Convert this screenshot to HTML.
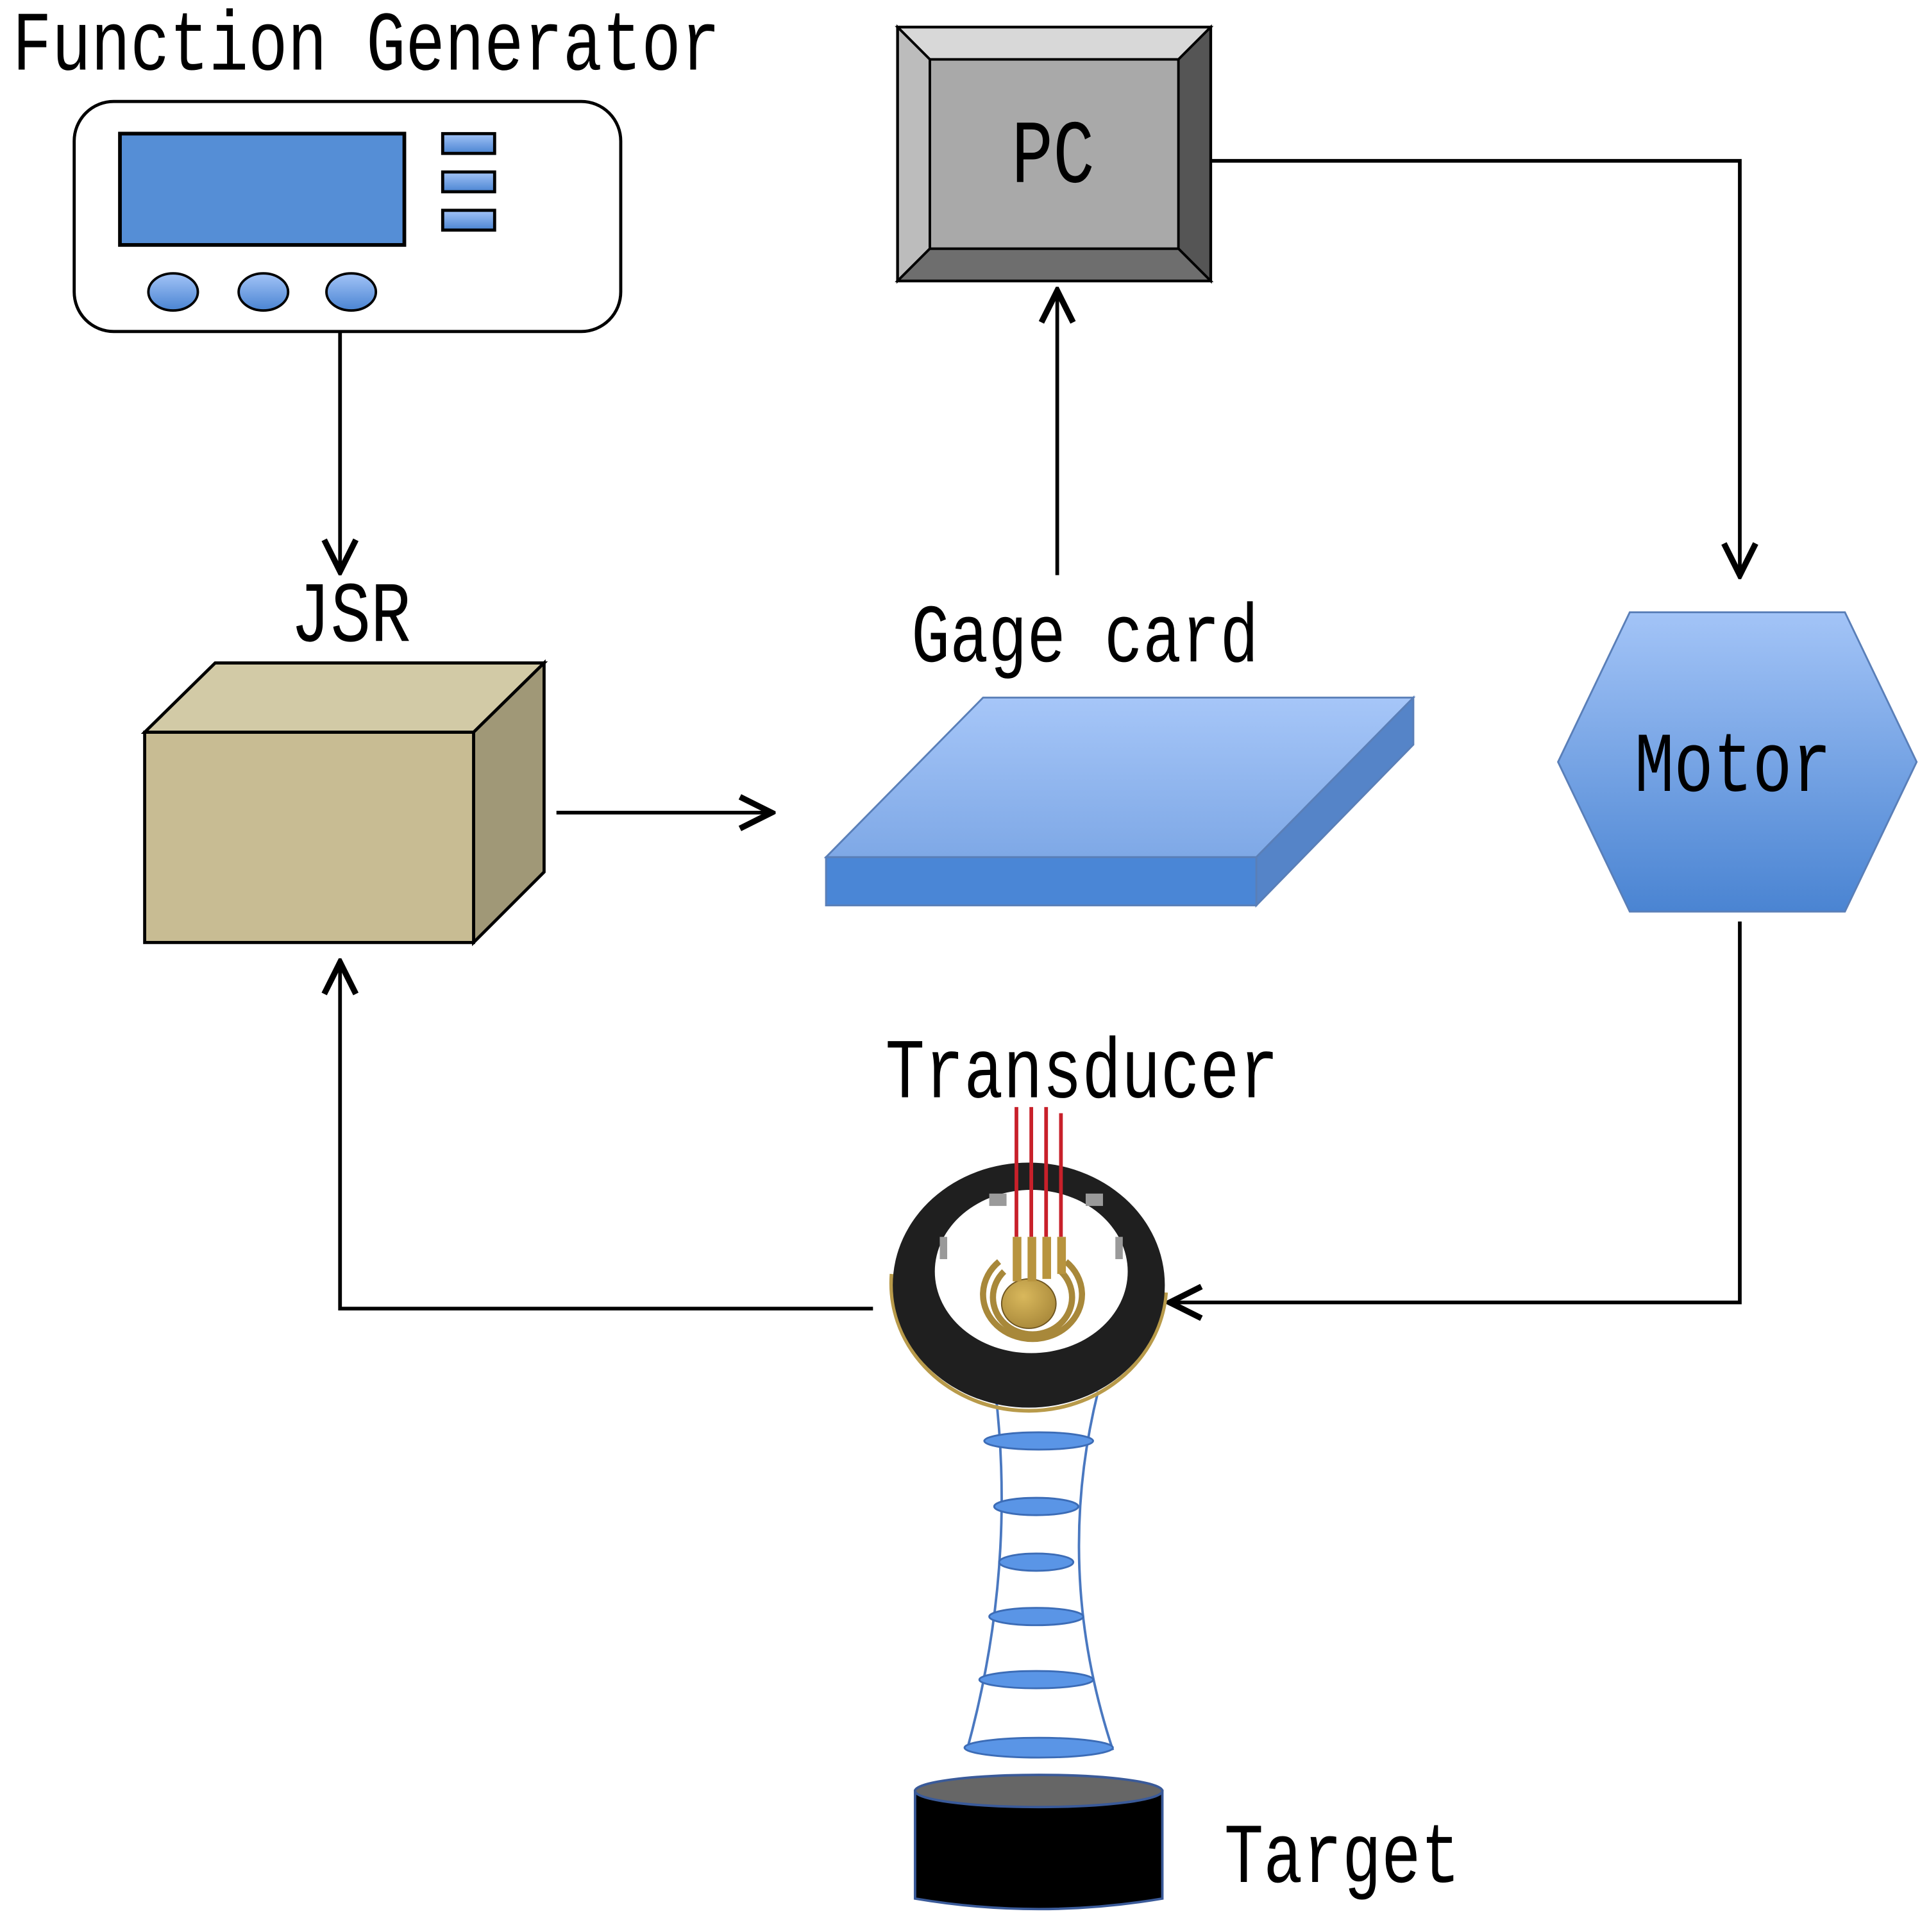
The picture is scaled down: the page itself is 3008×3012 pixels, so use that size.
<!DOCTYPE html>
<html><head><meta charset="utf-8"><style>html,body{margin:0;padding:0;background:#fff}svg{display:block}</style></head>
<body>
<svg width="3008" height="3012" viewBox="0 0 1560 1562" xmlns="http://www.w3.org/2000/svg">
<defs>
<linearGradient id="bl" x1="0" y1="0" x2="0" y2="1"><stop offset="0" stop-color="#a3c4f7"/><stop offset="1" stop-color="#4a84d2"/></linearGradient>
<linearGradient id="top" x1="0" y1="0" x2="0" y2="1"><stop offset="0" stop-color="#a6c6f8"/><stop offset="1" stop-color="#7ea8e6"/></linearGradient>
<radialGradient id="gold" cx="0.4" cy="0.35" r="0.7"><stop offset="0" stop-color="#d9b85c"/><stop offset="1" stop-color="#a8883a"/></radialGradient>
<marker id="ar" viewBox="0 0 20 20" refX="18" refY="10" markerWidth="32" markerHeight="32" markerUnits="userSpaceOnUse" orient="auto"><path d="M2,2 L18,10 L2,18" fill="none" stroke="#000" stroke-width="3"/></marker>
</defs>
<!-- function generator -->
<rect x="60" y="82" width="442" height="186" rx="32" fill="#fff" stroke="#000" stroke-width="2.5"/>
<rect x="97" y="108" width="230" height="90" fill="#558ed6" stroke="#000" stroke-width="3"/>
<rect x="358" y="108" width="42" height="16" fill="url(#bl)" stroke="#000" stroke-width="2.5"/>
<rect x="358" y="139" width="42" height="16" fill="url(#bl)" stroke="#000" stroke-width="2.5"/>
<rect x="358" y="170" width="42" height="16" fill="url(#bl)" stroke="#000" stroke-width="2.5"/>
<ellipse cx="140" cy="236" rx="20" ry="15" fill="url(#bl)" stroke="#000" stroke-width="2"/>
<ellipse cx="213" cy="236" rx="20" ry="15" fill="url(#bl)" stroke="#000" stroke-width="2"/>
<ellipse cx="284" cy="236" rx="20" ry="15" fill="url(#bl)" stroke="#000" stroke-width="2"/>
<!-- connectors -->
<g stroke="#000" stroke-width="3" fill="none">
<path d="M275,268 V462" marker-end="url(#ar)"/>
<path d="M450,657 H624" marker-end="url(#ar)"/>
<path d="M855,465 V235" marker-end="url(#ar)"/>
<path d="M979,130 H1407 V465" marker-end="url(#ar)"/>
<path d="M1407,745 V1053 H946" marker-end="url(#ar)"/>
<path d="M706,1058 H275 V778" marker-end="url(#ar)"/>
</g>
<!-- JSR cube -->
<polygon points="117,592 174,536 440,536 383,592" fill="#d2caa6" stroke="#000" stroke-width="2.5"/>
<polygon points="383,592 440,536 440,705 383,762" fill="#a09877" stroke="#000" stroke-width="2.5"/>
<rect x="117" y="592" width="266" height="170" fill="#c8bc93" stroke="#000" stroke-width="2.5"/>
<!-- gage card -->
<polygon points="668,693 795,564 1143,564 1016,693" fill="url(#top)" stroke="#5a7fb8" stroke-width="1.5"/>
<polygon points="1016,693 1143,564 1143,602 1016,732" fill="#5584c8" stroke="#5a7fb8" stroke-width="1.5"/>
<rect x="668" y="693" width="348" height="39" fill="#4a86d6" stroke="#5a7fb8" stroke-width="1.5"/>
<!-- PC -->
<rect x="726" y="22" width="253" height="205" fill="#888" stroke="#000" stroke-width="2.5"/>
<polygon points="726,22 979,22 953,48 752,48" fill="#d8d8d8" stroke="#000" stroke-width="2"/>
<polygon points="726,22 752,48 752,201 726,227" fill="#bcbcbc" stroke="#000" stroke-width="2"/>
<polygon points="979,22 953,48 953,201 979,227" fill="#555" stroke="#000" stroke-width="2"/>
<polygon points="726,227 752,201 953,201 979,227" fill="#6e6e6e" stroke="#000" stroke-width="2"/>
<rect x="752" y="48" width="201" height="153" fill="#a9a9a9" stroke="#000" stroke-width="2"/>
<!-- motor -->
<polygon points="1260,616 1318,495 1492,495 1550,616 1492,737 1318,737" fill="url(#bl)" stroke="#5a7fb8" stroke-width="1.5"/>
<!-- beam -->
<path d="M805,1125 Q822,1270 782,1415 M888,1125 Q852,1270 900,1415" fill="none" stroke="#4a78c0" stroke-width="2"/>
<g fill="#5a95e6" stroke="#3c6cb6" stroke-width="1.5">
<ellipse cx="840" cy="1165" rx="44" ry="7"/>
<ellipse cx="838" cy="1218" rx="34" ry="7"/>
<ellipse cx="838" cy="1263" rx="30" ry="7"/>
<ellipse cx="838" cy="1307" rx="38" ry="7"/>
<ellipse cx="838" cy="1358" rx="46" ry="7"/>
<ellipse cx="840" cy="1413" rx="60" ry="8"/>
</g>
<!-- transducer -->
<path d="M721,1030 A110,102 0 0,0 943,1045" fill="none" stroke="#b89a4a" stroke-width="3"/>
<path fill="#1f1f1f" fill-rule="evenodd" d="M722,1039 a110,99 0 1,0 220,0 a110,99 0 1,0 -220,0 Z M756,1028 a78,66 0 1,0 156,0 a78,66 0 1,0 -156,0 Z"/>
<g fill="#9a9a9a"><rect x="800" y="965" width="14" height="10"/><rect x="878" y="965" width="14" height="10"/><rect x="760" y="1000" width="6" height="18"/><rect x="902" y="1000" width="6" height="18"/></g>
<g fill="none" stroke="#a8883a" stroke-width="5">
<path d="M808,1020 A40,36 0 1,0 862,1020"/>
<path d="M812,1028 A32,30 0 1,0 858,1028"/>
</g>
<ellipse cx="832" cy="1054" rx="22" ry="20" fill="url(#gold)" stroke="#6e5520" stroke-width="1"/>
<g stroke="#c8202a" stroke-width="3">
<line x1="822" y1="895" x2="822" y2="1000"/><line x1="834" y1="895" x2="834" y2="1000"/>
<line x1="846" y1="895" x2="846" y2="1000"/><line x1="858" y1="900" x2="858" y2="1000"/>
</g>
<g fill="#b8943e"><rect x="819" y="1000" width="7" height="36"/><rect x="831" y="1000" width="7" height="36"/><rect x="843" y="1000" width="7" height="34"/><rect x="855" y="1000" width="7" height="30"/></g>
<!-- target -->
<path d="M740,1448 V1535 Q840,1552 940,1535 V1448 Z" fill="#000" stroke="#3a5a99" stroke-width="2"/>
<ellipse cx="840" cy="1448" rx="100" ry="13" fill="#666" stroke="#3a5a99" stroke-width="2"/>
<!-- labels -->
<g font-family="'Liberation Mono', monospace" fill="#000">
<text x="10" y="56" font-size="53" transform="translate(0,-16) scale(1,1.29)">Function Generator</text>
<text x="235" y="518" font-size="54" transform="translate(0,-150) scale(1,1.29)">JSR</text>
<text x="737" y="537" font-size="52" transform="translate(0,-158) scale(1,1.29)">Gage card</text>
<text x="818" y="147" font-size="56" transform="translate(0,-44) scale(1,1.3)">PC</text>
<text x="1322" y="638" font-size="53" transform="translate(0,-190) scale(1,1.3)">Motor</text>
<text x="716" y="887" font-size="53" transform="translate(0,-266) scale(1,1.3)">Transducer</text>
<text x="990" y="1522" font-size="53" transform="translate(0,-457) scale(1,1.3)">Target</text>
</g>
</svg>
</body></html>
